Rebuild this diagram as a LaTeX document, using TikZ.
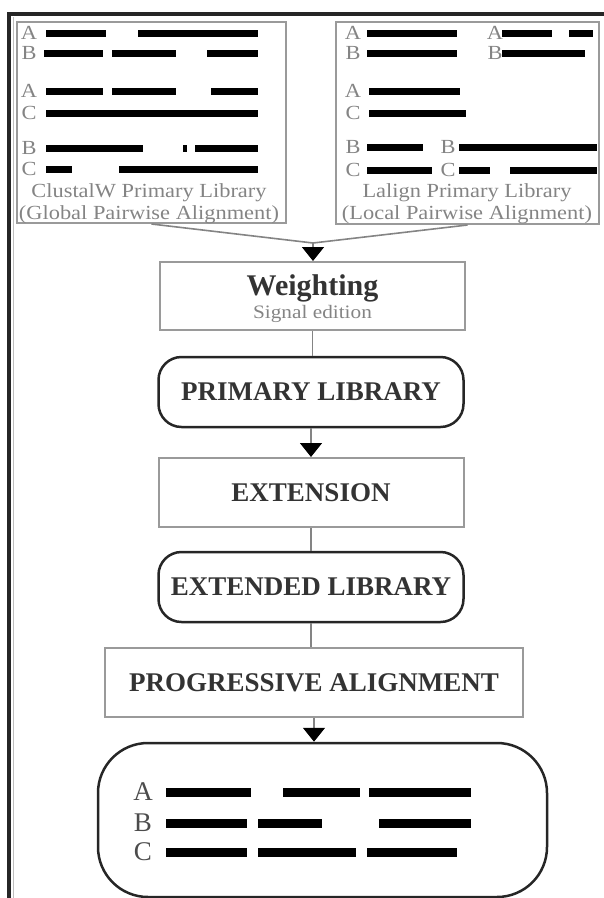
\documentclass[tikz,border=0pt]{standalone}
\usepackage{fontspec}
\setmainfont{Liberation Serif}
\newfontfamily\widefont[FakeStretch=1.12]{Liberation Serif}
\usetikzlibrary{arrows.meta}
\definecolor{txt}{HTML}{333333}
\definecolor{lgray}{HTML}{848484}
\definecolor{bgray}{HTML}{9A9A9A}
\begin{document}
\begin{tikzpicture}[x=1pt,y=-1pt,
  graybox/.style={draw=bgray, line width=2pt, inner sep=0pt},
  roundbox/.style={draw=black!85, line width=2.5pt, rounded corners=23pt, inner sep=0pt},
  steptext/.style={font=\fontsize{27}{29}\selectfont\bfseries, text=txt},
  conn/.style={draw=lgray, line width=1.6pt},
  arr/.style={conn, -{Triangle[width=22pt,length=14pt,color=black]}},
  seq/.style={line width=7pt, black},
  bigseq/.style={line width=9pt, black},
  lab/.style={font=\widefont\fontsize{20}{20}\selectfont, text=lgray, inner sep=0pt},
  biglab/.style={font=\fontsize{27}{27}\selectfont, text=black!70, inner sep=0pt},
  caption/.style={font=\widefont\fontsize{20}{22}\selectfont, text=lgray, align=center, inner sep=0pt}]
\useasboundingbox (0,0) rectangle (604,898);
% outer frame
\draw[line width=4pt, black!85] (9,898) -- (9,14) -- (604,14);
\draw[line width=1pt, black!25] (13,898) -- (13,17);

% library boxes
\node[graybox, minimum width=269pt, minimum height=201pt] (lib1) at (151.5,122.5) {};
\node[graybox, minimum width=263pt, minimum height=202pt] (lib2) at (467.5,123) {};

% left library labels
\foreach \y/\t [count=\i] in {33/A,53/B,91/A,113/C,148/B,169/C}
  \node[lab] (l1lab\i) at (29,\y) {\t};
\foreach \y/\a/\b in {33/46/106, 33/138/258,
                      53/44/103, 53/112/176, 53/207/258,
                      91/46/103, 91/112/176, 91/211/258,
                      113/46/258,
                      148/46/143, 148/183/187, 148/195/258,
                      169/46/72, 169/119/258}
  \draw[seq] (\a,\y) -- (\b,\y);
\node[caption] (cap1) at (149,204) {ClustalW Primary Library\\(Global Pairwise Alignment)};

% right library labels
\foreach \x/\y/\t [count=\i] in {353/33/A,495/33/A,353/53/B,495/53/B,353/91/A,353/113/C,353/147/B,448/147/B,353/170/C,448/170/C}
  \node[lab] (l2lab\i) at (\x,\y) {\t};
\foreach \y/\a/\b in {33/367/457, 33/502/552, 33/569/593,
                      53/367/457, 53/502/585,
                      91/369/460,
                      113/369/466,
                      147/367/423, 147/459/597,
                      170/367/432, 170/459/490, 170/510/597}
  \draw[seq] (\a,\y) -- (\b,\y);
\node[caption] (cap2) at (467,204) {Lalign Primary Library\\(Local Pairwise Alignment)};

% flow boxes
\node[graybox, minimum width=305pt, minimum height=68pt] (weight) at (312.5,296) {};
\node[font=\fontsize{30}{32}\selectfont\bfseries, text=txt, anchor=base, inner sep=0pt] (wt1) at (312.5,295) {Weighting};
\node[font=\widefont\fontsize{19}{21}\selectfont, text=lgray, anchor=base, inner sep=0pt] (wt2) at (312.5,318) {Signal edition};

\node[roundbox, steptext, minimum width=305pt, minimum height=70pt] (prim) at (311,392) {PRIMARY LIBRARY};
\node[graybox, steptext, minimum width=305pt, minimum height=69pt] (ext) at (311,492.5) {EXTENSION};
\node[roundbox, steptext, minimum width=305pt, minimum height=70pt] (extlib) at (311,587) {EXTENDED LIBRARY};
\node[graybox, steptext, minimum width=418pt, minimum height=69pt] (prog) at (314,682.5) {PROGRESSIVE ALIGNMENT};
\node[roundbox, rounded corners=50pt, minimum width=449pt, minimum height=154pt] (result) at (322.5,820) {};

% result alignment
\foreach \y/\t [count=\i] in {792/A,823/B,852/C}
  \node[biglab] (rlab\i) at (143,\y) {\t};
\foreach \y/\a/\b in {792/166/251, 792/283/360, 792/369/471,
                      823/166/247, 823/258/322, 823/379/471,
                      852/166/247, 852/258/356, 852/367/457}
  \draw[bigseq] (\a,\y) -- (\b,\y);

% connectors
\coordinate (merge) at (313,243);
\draw[conn] (lib1.south) -- (merge);
\draw[conn] (lib2.south) -- (merge);
\draw[arr] (merge) -- (merge |- weight.north);
\draw[conn] (weight.south) -- (weight.south |- prim.north);
\draw[arr] (prim.south) -- (prim.south |- ext.north);
\draw[conn] (ext.south) -- (ext.south |- extlib.north);
\draw[conn] (extlib.south) -- (extlib.south |- prog.north);
\draw[arr] (prog.south) -- (prog.south |- result.north);
\end{tikzpicture}
\end{document}
